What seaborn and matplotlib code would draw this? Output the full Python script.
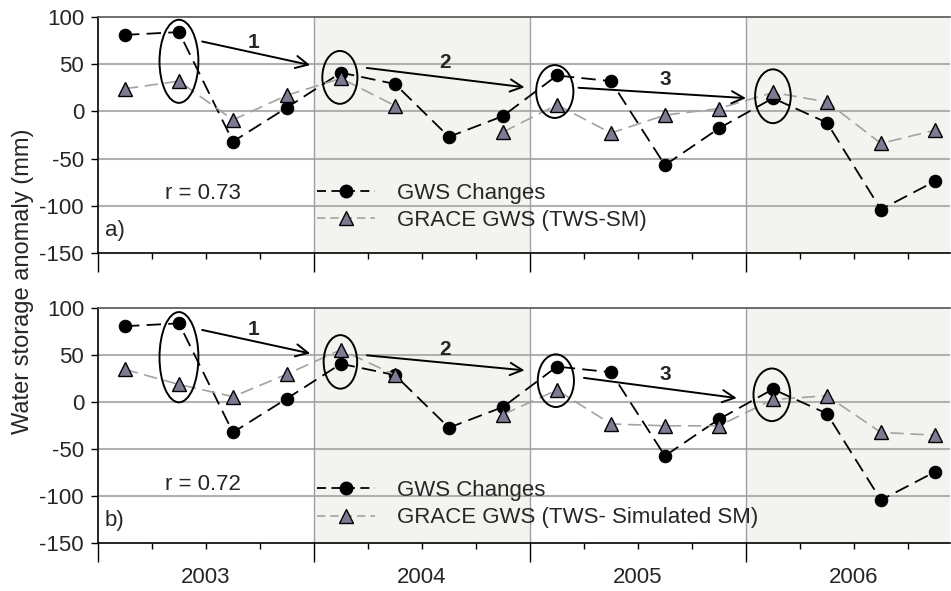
import numpy as np
import pandas as pd
import matplotlib
matplotlib.use("Agg")
import matplotlib.pyplot as plt
import seaborn as sns
from matplotlib.patches import Ellipse
from matplotlib.lines import Line2D

sns.set_theme(style="white")
plt.rcParams["font.family"] = ["Liberation Sans", "DejaVu Sans"]
plt.rcParams["axes.unicode_minus"] = False

# ---------------- data ----------------
years = ["2003", "2004", "2005", "2006"]
quarter_x = [0.5, 1.5, 2.5, 3.5, 4.5, 5.5, 6.5, 7.5,
             8.5, 9.5, 10.5, 11.5, 12.5, 13.5, 14.5, 15.5]
gws_changes = [81, 84, -32, 4, 41, 29, -27, -5,
               38, 32, -57, -18, 14, -12, -104, -74]
grace_a = [24, 32, -9, 17, 35, 6, np.nan, -22,
           7, -23, -4, 3, 20, 10, -34, -20]
grace_b = [35, 19, 6, 30, 56, 29, np.nan, -13,
           13, -23, -25, -25, 3, 7, -32, -35]

label_gws = "GWS Changes"
label_a = "GRACE GWS (TWS-SM)"
label_b = "GRACE GWS (TWS- Simulated SM)"
r_a = "r = 0.73"
r_b = "r = 0.72"

# ellipses: (x, y, w, h) in data units
ell_a = [(1.5, 53, 0.72, 88), (4.48, 36, 0.65, 56), (8.46, 21, 0.69, 56), (12.5, 16, 0.66, 57)]
ell_b = [(1.5, 48, 0.72, 96), (4.49, 43, 0.62, 57), (8.48, 23, 0.67, 56), (12.48, 8, 0.68, 56)]
# arrows: (x0, y0, x1, y1, label, lx, ly)
arr_a = [(1.93, 74, 3.93, 49, "1", 2.88, 73), (4.98, 46, 7.9, 25.5, "2", 6.43, 52),
         (8.9, 25, 12.0, 14, "3", 10.5, 34)]
arr_b = [(1.93, 77, 3.93, 52, "1", 2.88, 78), (4.98, 50, 7.9, 34, "2", 6.43, 56),
         (9.0, 26, 11.83, 4.5, "3", 10.5, 30)]

GWS_DASH = (8, 4)
GRACE_DASH = (8, 4)
TRI_FACE = "#7b7b93"
GRACE_LINE = "#a3a3a3"
SHADE = "#f3f3f0"
FS = 16

fig = plt.figure(figsize=(9.51, 5.91), dpi=100)
ax1 = fig.add_axes([0.103, 0.572, 0.896, 0.3993])
ax2 = fig.add_axes([0.103, 0.0807, 0.896, 0.3976])


def draw_panel(ax, grace, glabel, rtext, tag, ells, arrs, leg_y):
    ax.set_facecolor("white")
    ax.axvspan(4, 8, color=SHADE, zorder=0, lw=0)
    ax.axvspan(12, 16, color=SHADE, zorder=0, lw=0)
    for yv in [-100, -50, 0, 50]:
        ax.axhline(yv, color="#b0b0b0", lw=1.5, zorder=1)
    for xv in [4, 8, 12]:
        ax.axvline(xv, color="#a0a0a0", lw=1.0, zorder=1)

    df_g = pd.DataFrame({"x": quarter_x, "y": gws_changes})
    sns.lineplot(data=df_g, x="x", y="y", ax=ax, color="black", marker="o",
                 markersize=9, markerfacecolor="black", markeredgecolor="black",
                 lw=1.3, zorder=3)
    seg = [0 if i < 6 else 1 for i in range(len(quarter_x))]
    df_r = pd.DataFrame({"x": quarter_x, "y": grace, "seg": seg}).dropna()
    sns.lineplot(data=df_r, x="x", y="y", units="seg", estimator=None, ax=ax,
                 color=GRACE_LINE, marker="^", markersize=10,
                 markerfacecolor=TRI_FACE, markeredgecolor="black",
                 markeredgewidth=1.0, lw=1.2, zorder=4)
    for ln in ax.get_lines():
        if ln.get_marker() == "o":
            ln.set_dashes(GWS_DASH)
        elif ln.get_marker() == "^":
            ln.set_dashes(GRACE_DASH)

    for (x, y, w, h) in ells:
        ax.add_patch(Ellipse((x, y), w, h, fill=False, ec="black", lw=1.4, zorder=5))
    for (x0, y0, x1, y1, lab, lx, ly) in arrs:
        ax.annotate("", xy=(x1, y1), xytext=(x0, y0),
                    arrowprops=dict(arrowstyle="->", lw=1.4, color="black",
                                    mutation_scale=22, shrinkA=0, shrinkB=0),
                    zorder=5)
        ax.text(lx, ly, lab, fontsize=15, fontweight="bold", ha="center", va="center")

    ax.text(1.94, -87, rtext, fontsize=FS, ha="center", va="center")
    ax.text(0.13, -126, tag, fontsize=FS, ha="left", va="center")

    handles = [
        Line2D([], [], color="black", marker="o", markersize=9, markerfacecolor="black",
               lw=1.3, dashes=(5, 3)),
        Line2D([], [], color=GRACE_LINE, marker="^", markersize=10,
               markerfacecolor=TRI_FACE, markeredgecolor="black", lw=1.2, dashes=(5, 3)),
    ]
    ax.legend(handles, [label_gws, glabel], loc="center left",
              bbox_to_anchor=(0.257, leg_y), frameon=False, fontsize=FS,
              handlelength=2.6, handletextpad=1.0, labelspacing=0.3, borderpad=0,
              borderaxespad=0)

    ax.set_xlim(0, 15.78)
    ax.set_ylim(-150, 100)
    ax.set_xlabel("")
    ax.set_ylabel("")
    ax.set_yticks([-150, -100, -50, 0, 50, 100])
    ax.set_xticks([0, 4, 8, 12])
    ax.set_xticks([1, 2, 3, 5, 6, 7, 9, 10, 11, 13, 14, 15], minor=True)
    ax.set_xticklabels([])
    ax.tick_params(axis="x", which="major", direction="out", length=14, width=1.0,
                   color="black", bottom=True)
    ax.tick_params(axis="x", which="minor", direction="out", length=4, width=1.0,
                   color="black", bottom=True)
    ax.tick_params(axis="y", direction="out", length=5, width=1.0, color="black",
                   labelsize=FS, pad=5, left=True)
    for s in ["left", "bottom"]:
        ax.spines[s].set_color("black")
        ax.spines[s].set_linewidth(1.2)
    ax.spines["top"].set_color("#555555")
    ax.spines["top"].set_linewidth(1.2)
    ax.spines["right"].set_visible(False)


draw_panel(ax1, grace_a, label_a, r_a, "a)", ell_a, arr_a, 0.195)
draw_panel(ax2, grace_b, label_b, r_b, "b)", ell_b, arr_b, 0.167)

for i, yr in enumerate(years):
    ax2.text(2 + 4 * i, -0.145, yr, fontsize=FS, ha="center", va="center",
             transform=ax2.get_xaxis_transform())

fig.text(0.024, 0.524, "Water storage anomaly (mm)", rotation=90, fontsize=17,
         ha="center", va="center")

fig.savefig("out.png", dpi=100)
